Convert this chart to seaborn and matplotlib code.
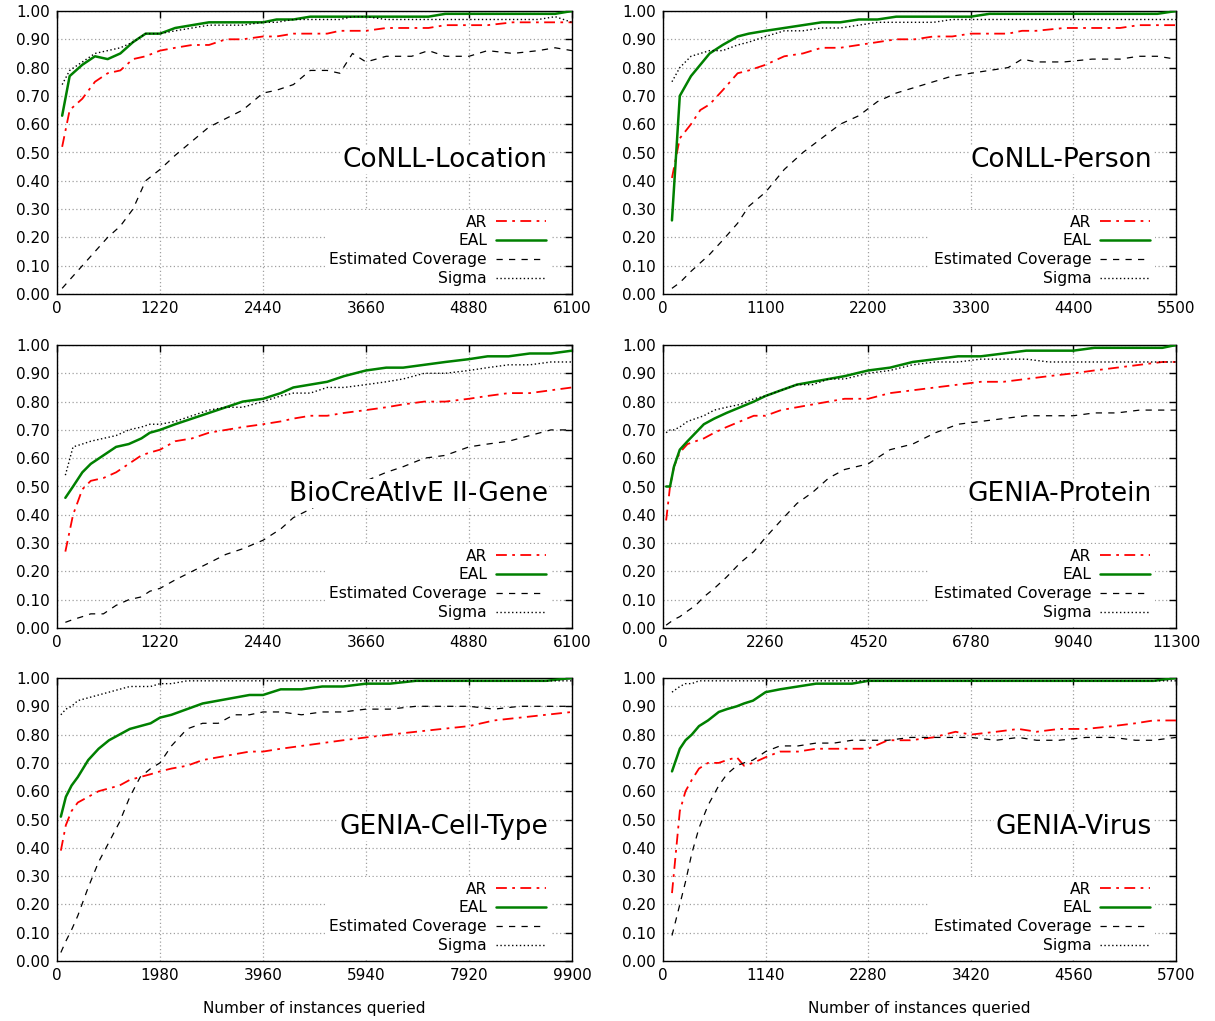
import numpy as np
import pandas as pd
import seaborn as sns
import matplotlib
matplotlib.use("Agg")
import matplotlib.pyplot as plt

# ---- data, one list per series ----
titles = ["CoNLL-Location", "CoNLL-Person", "BioCreAtIvE II-Gene",
          "GENIA-Protein", "GENIA-Cell-Type", "GENIA-Virus"]
xmaxes = [6100, 5500, 6100, 11300, 9900, 5700]

# CoNLL-Location
x1 = [61, 150, 300, 450, 600, 750, 900, 1050, 1220, 1400, 1600, 1800, 2000, 2200, 2440, 2600,
      2800, 3000, 3200, 3350, 3500, 3660, 3900, 4200, 4400, 4600, 4880, 5100, 5400, 5700, 5900, 6100]
ar1 = [0.52, 0.65, 0.69, 0.75, 0.78, 0.79, 0.83, 0.84, 0.86, 0.87, 0.88, 0.88, 0.90, 0.90, 0.91, 0.91,
       0.92, 0.92, 0.92, 0.93, 0.93, 0.93, 0.94, 0.94, 0.94, 0.95, 0.95, 0.95, 0.96, 0.96, 0.96, 0.96]
eal1 = [0.63, 0.77, 0.81, 0.84, 0.83, 0.85, 0.89, 0.92, 0.92, 0.94, 0.95, 0.96, 0.96, 0.96, 0.96, 0.97,
        0.97, 0.98, 0.98, 0.98, 0.98, 0.98, 0.98, 0.98, 0.98, 0.99, 0.99, 0.99, 0.99, 0.99, 0.99, 1.00]
cov1 = [0.02, 0.05, 0.10, 0.15, 0.20, 0.24, 0.30, 0.40, 0.44, 0.49, 0.54, 0.59, 0.62, 0.65, 0.71, 0.72,
        0.74, 0.79, 0.79, 0.78, 0.85, 0.82, 0.84, 0.84, 0.86, 0.84, 0.84, 0.86, 0.85, 0.86, 0.87, 0.86]
sig1 = [0.74, 0.79, 0.82, 0.85, 0.86, 0.87, 0.89, 0.92, 0.92, 0.93, 0.94, 0.95, 0.95, 0.95, 0.96, 0.96,
        0.97, 0.97, 0.97, 0.97, 0.98, 0.98, 0.97, 0.97, 0.97, 0.97, 0.97, 0.97, 0.97, 0.97, 0.98, 0.96]

# CoNLL-Person
x2 = [96, 180, 300, 400, 500, 640, 800, 920, 1100, 1300, 1500, 1700, 1900, 2100, 2300, 2500,
      2700, 2900, 3100, 3300, 3500, 3700, 3850, 4000, 4300, 4600, 4900, 5100, 5300, 5500]
ar2 = [0.41, 0.55, 0.60, 0.65, 0.67, 0.72, 0.78, 0.79, 0.81, 0.84, 0.85, 0.87, 0.87, 0.88, 0.89, 0.90,
       0.90, 0.91, 0.91, 0.92, 0.92, 0.92, 0.93, 0.93, 0.94, 0.94, 0.94, 0.95, 0.95, 0.95]
eal2 = [0.26, 0.70, 0.77, 0.81, 0.85, 0.88, 0.91, 0.92, 0.93, 0.94, 0.95, 0.96, 0.96, 0.97, 0.97, 0.98,
        0.98, 0.98, 0.98, 0.98, 0.99, 0.99, 0.99, 0.99, 0.99, 0.99, 0.99, 0.99, 0.99, 1.00]
cov2 = [0.02, 0.04, 0.08, 0.11, 0.14, 0.19, 0.25, 0.31, 0.36, 0.44, 0.50, 0.55, 0.60, 0.63, 0.68, 0.71,
        0.73, 0.75, 0.77, 0.78, 0.79, 0.80, 0.83, 0.82, 0.82, 0.83, 0.83, 0.84, 0.84, 0.83]
sig2 = [0.75, 0.80, 0.84, 0.85, 0.86, 0.86, 0.88, 0.89, 0.91, 0.93, 0.93, 0.94, 0.94, 0.95, 0.96, 0.96,
        0.96, 0.96, 0.97, 0.97, 0.97, 0.97, 0.97, 0.97, 0.97, 0.97, 0.97, 0.97, 0.97, 0.97]

# BioCreAtIvE II-Gene
x3 = [99, 190, 300, 400, 550, 700, 850, 1000, 1100, 1220, 1400, 1600, 1800, 2000, 2200, 2440,
      2650, 2800, 3000, 3200, 3400, 3660, 3900, 4100, 4350, 4600, 4880, 5100, 5350, 5600, 5850, 6100]
ar3 = [0.27, 0.40, 0.49, 0.52, 0.53, 0.55, 0.58, 0.61, 0.62, 0.63, 0.66, 0.67, 0.69, 0.70, 0.71, 0.72,
       0.73, 0.74, 0.75, 0.75, 0.76, 0.77, 0.78, 0.79, 0.80, 0.80, 0.81, 0.82, 0.83, 0.83, 0.84, 0.85]
eal3 = [0.46, 0.50, 0.55, 0.58, 0.61, 0.64, 0.65, 0.67, 0.69, 0.70, 0.72, 0.74, 0.76, 0.78, 0.80, 0.81,
        0.83, 0.85, 0.86, 0.87, 0.89, 0.91, 0.92, 0.92, 0.93, 0.94, 0.95, 0.96, 0.96, 0.97, 0.97, 0.98]
cov3 = [0.02, 0.03, 0.04, 0.05, 0.05, 0.08, 0.10, 0.11, 0.13, 0.14, 0.17, 0.20, 0.23, 0.26, 0.28, 0.31,
        0.35, 0.39, 0.42, 0.45, 0.49, 0.52, 0.55, 0.57, 0.60, 0.61, 0.64, 0.65, 0.66, 0.68, 0.70, 0.70]
sig3 = [0.54, 0.64, 0.65, 0.66, 0.67, 0.68, 0.70, 0.71, 0.72, 0.72, 0.73, 0.75, 0.77, 0.78, 0.78, 0.80,
        0.82, 0.83, 0.83, 0.85, 0.85, 0.86, 0.87, 0.88, 0.90, 0.90, 0.91, 0.92, 0.93, 0.93, 0.94, 0.94]

# GENIA-Protein
x4 = [69, 155, 241, 370, 540, 720, 900, 1130, 1400, 1700, 2000, 2260, 2600, 2950, 3300, 3650,
      4000, 4520, 5000, 5500, 6000, 6500, 7000, 7500, 8000, 8500, 9040, 9500, 10000, 10500, 11000, 11300]
ar4 = [0.38, 0.50, 0.57, 0.62, 0.65, 0.66, 0.67, 0.69, 0.71, 0.73, 0.75, 0.75, 0.77, 0.78, 0.79, 0.80,
       0.81, 0.81, 0.83, 0.84, 0.85, 0.86, 0.87, 0.87, 0.88, 0.89, 0.90, 0.91, 0.92, 0.93, 0.94, 0.94]
eal4 = [0.50, 0.50, 0.57, 0.63, 0.66, 0.69, 0.72, 0.74, 0.76, 0.78, 0.80, 0.82, 0.84, 0.86, 0.87, 0.88,
        0.89, 0.91, 0.92, 0.94, 0.95, 0.96, 0.96, 0.97, 0.98, 0.98, 0.98, 0.99, 0.99, 0.99, 0.99, 1.00]
cov4 = [0.01, 0.02, 0.03, 0.04, 0.06, 0.08, 0.11, 0.14, 0.18, 0.23, 0.27, 0.32, 0.38, 0.44, 0.48, 0.53,
        0.56, 0.58, 0.63, 0.65, 0.69, 0.72, 0.73, 0.74, 0.75, 0.75, 0.75, 0.76, 0.76, 0.77, 0.77, 0.77]
sig4 = [0.69, 0.70, 0.70, 0.71, 0.73, 0.74, 0.75, 0.77, 0.78, 0.79, 0.81, 0.82, 0.84, 0.86, 0.86, 0.88,
        0.88, 0.90, 0.91, 0.93, 0.94, 0.94, 0.95, 0.95, 0.95, 0.94, 0.94, 0.94, 0.94, 0.94, 0.94, 0.94]

# GENIA-Cell-Type
x5 = [74, 170, 280, 400, 600, 800, 1000, 1200, 1400, 1600, 1800, 1980, 2200, 2500, 2800, 3100,
      3400, 3700, 3960, 4300, 4700, 5100, 5500, 5940, 6400, 6900, 7400, 7920, 8400, 8900, 9400, 9900]
ar5 = [0.39, 0.48, 0.53, 0.56, 0.58, 0.60, 0.61, 0.62, 0.64, 0.65, 0.66, 0.67, 0.68, 0.69, 0.71, 0.72,
       0.73, 0.74, 0.74, 0.75, 0.76, 0.77, 0.78, 0.79, 0.80, 0.81, 0.82, 0.83, 0.85, 0.86, 0.87, 0.88]
eal5 = [0.51, 0.58, 0.62, 0.65, 0.71, 0.75, 0.78, 0.80, 0.82, 0.83, 0.84, 0.86, 0.87, 0.89, 0.91, 0.92,
        0.93, 0.94, 0.94, 0.96, 0.96, 0.97, 0.97, 0.98, 0.98, 0.99, 0.99, 0.99, 0.99, 0.99, 0.99, 1.00]
cov5 = [0.03, 0.07, 0.11, 0.16, 0.26, 0.35, 0.42, 0.49, 0.58, 0.65, 0.68, 0.70, 0.76, 0.82, 0.84, 0.84,
        0.87, 0.87, 0.88, 0.88, 0.87, 0.88, 0.88, 0.89, 0.89, 0.90, 0.90, 0.90, 0.89, 0.90, 0.90, 0.90]
sig5 = [0.87, 0.89, 0.90, 0.92, 0.93, 0.94, 0.95, 0.96, 0.97, 0.97, 0.97, 0.98, 0.98, 0.99, 0.99, 0.99,
        0.99, 0.99, 0.99, 0.99, 0.99, 0.99, 0.99, 0.99, 0.99, 0.99, 0.99, 0.99, 0.99, 0.99, 0.99, 0.99]

# GENIA-Virus
x6 = [100, 187, 250, 320, 400, 500, 620, 710, 820, 900, 1000, 1140, 1300, 1500, 1700, 1900,
      2100, 2280, 2500, 2750, 3000, 3250, 3420, 3700, 3950, 4150, 4400, 4700, 5000, 5250, 5450, 5700]
ar6 = [0.24, 0.53, 0.60, 0.64, 0.68, 0.70, 0.70, 0.71, 0.72, 0.69, 0.70, 0.72, 0.74, 0.74, 0.75, 0.75,
       0.75, 0.75, 0.78, 0.78, 0.79, 0.81, 0.80, 0.81, 0.82, 0.81, 0.82, 0.82, 0.83, 0.84, 0.85, 0.85]
eal6 = [0.67, 0.75, 0.78, 0.80, 0.83, 0.85, 0.88, 0.89, 0.90, 0.91, 0.92, 0.95, 0.96, 0.97, 0.98, 0.98,
        0.98, 0.99, 0.99, 0.99, 0.99, 0.99, 0.99, 0.99, 0.99, 0.99, 0.99, 0.99, 0.99, 0.99, 0.99, 1.00]
cov6 = [0.09, 0.20, 0.28, 0.38, 0.47, 0.55, 0.62, 0.66, 0.69, 0.70, 0.71, 0.74, 0.76, 0.76, 0.77, 0.77,
        0.78, 0.78, 0.78, 0.79, 0.79, 0.79, 0.79, 0.78, 0.79, 0.78, 0.78, 0.79, 0.79, 0.78, 0.78, 0.79]
sig6 = [0.95, 0.97, 0.98, 0.98, 0.99, 0.99, 0.99, 0.99, 0.99, 0.99, 0.99, 0.99, 0.99, 0.99, 0.99, 0.99,
        0.99, 0.99, 0.99, 0.99, 0.99, 0.99, 0.99, 0.99, 0.99, 0.99, 0.99, 0.99, 0.99, 0.99, 0.99, 0.99]

panels = [(x1, ar1, eal1, cov1, sig1), (x2, ar2, eal2, cov2, sig2), (x3, ar3, eal3, cov3, sig3),
          (x4, ar4, eal4, cov4, sig4), (x5, ar5, eal5, cov5, sig5), (x6, ar6, eal6, cov6, sig6)]

series_names = ["AR", "EAL", "Estimated Coverage", "Sigma"]
styles = {
    "AR": dict(color="#ff0000", lw=1.3, ls=(0, (6, 3, 1.5, 3))),
    "EAL": dict(color="#008000", lw=1.8, ls="-"),
    "Estimated Coverage": dict(color="black", lw=0.9, ls=(0, (5, 5))),
    "Sigma": dict(color="black", lw=1.0, ls=(0, (1, 1.8))),
}

sns.set_theme(style="white", rc={"text.color": "black", "axes.labelcolor": "black",
                                 "xtick.color": "black", "ytick.color": "black",
                                 "axes.edgecolor": "black"})
plt.rcParams["font.family"] = ["DejaVu Sans"]
plt.rcParams["axes.linewidth"] = 1.0

fig = plt.figure(figsize=(12.15, 10.21), dpi=100)
W, H = 1215, 1021
col_left = [57, 663]
col_w = [515, 513]
row_bottom = [294, 628, 961]
ax_h = 283

for i, (title, xmax, data) in enumerate(zip(titles, xmaxes, panels)):
    r, c = divmod(i, 2)
    ax = fig.add_axes([col_left[c] / W, 1 - row_bottom[r] / H, col_w[c] / W, ax_h / H])
    xs = data[0]
    for name, ys in zip(series_names, data[1:]):
        df = pd.DataFrame({"x": xs, "y": ys})
        st = styles[name]
        sns.lineplot(data=df, x="x", y="y", ax=ax, color=st["color"], linewidth=st["lw"],
                     linestyle=st["ls"], label=name, zorder=3)
    ax.set_xlim(0, xmax)
    ax.set_ylim(0, 1)
    ax.set_xticks([xmax * k / 5 for k in range(6)])
    ax.set_xticklabels([f"{int(round(xmax * k / 5))}" for k in range(6)])
    ax.set_yticks([k / 10 for k in range(11)])
    ax.set_yticklabels([f"{k / 10:.2f}" for k in range(11)])
    ax.tick_params(direction="in", top=True, right=True, length=5, width=1,
                   labelsize=11, colors="black", pad=5)
    ax.grid(True, color="#a0a0a0", linestyle=(0, (1, 2)), linewidth=0.9)
    ax.set_axisbelow(True)
    for sp in ax.spines.values():
        sp.set_color("black")
        sp.set_visible(True)
    ax.set_ylabel("")
    if r == 2:
        ax.set_xlabel("Number of instances queried", fontsize=11, labelpad=13, color="black")
    else:
        ax.set_xlabel("")
    ax.text(0.953, 0.475, title, transform=ax.transAxes, ha="right", va="center",
            fontsize=19, zorder=4, color="black",
            bbox=dict(facecolor="white", edgecolor="none", pad=1))
    leg = ax.legend(loc="lower right", bbox_to_anchor=(0.965, 0.0), markerfirst=False,
                    frameon=True, fontsize=11.2, handlelength=3.2, handletextpad=0.6,
                    labelspacing=0.25, borderpad=0.3, borderaxespad=0.2, fancybox=False)
    leg.get_frame().set_facecolor("white")
    leg.get_frame().set_edgecolor("none")
    leg.get_frame().set_alpha(1.0)
    for t in leg.get_texts():
        t.set_color("black")

fig.savefig("out.png", dpi=100)
